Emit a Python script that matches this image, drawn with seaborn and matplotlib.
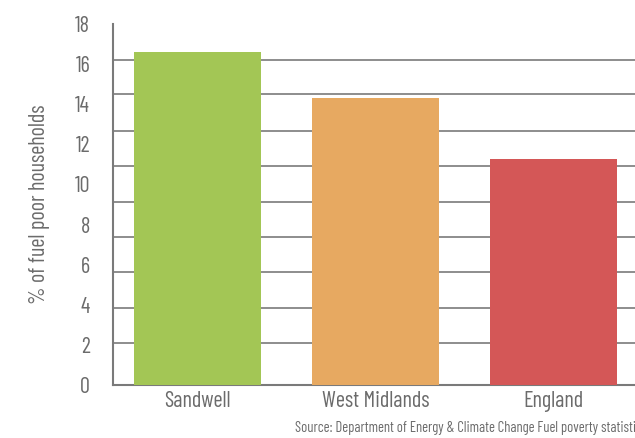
import matplotlib
matplotlib.use("Agg")
import matplotlib.pyplot as plt
import seaborn as sns
import pandas as pd
from matplotlib import font_manager
from matplotlib.transforms import blended_transform_factory

categories = ["Sandwell", "West Midlands", "England"]
values = [16.6, 14.3, 11.27]
colors = ["#a3c655", "#e7a961", "#d45757"]
ytick_values = [0, 2, 4, 6, 8, 10, 12, 14, 16, 18]
grid_values = [2.08, 3.84, 5.62, 7.39, 9.14, 10.92, 12.68, 14.51, 16.2, 18.0]
source_text = "Source: Department of Energy & Climate Change Fuel poverty statistics"

sns.set_style("white")
names = {f.name for f in font_manager.fontManager.ttflist}
fam = "Barlow Condensed" if "Barlow Condensed" in names else "DejaVu Sans"
plt.rcParams["font.family"] = [fam, "DejaVu Sans"]

TEXT = "#6b6b6b"
LINE = "#7a7a7a"

df = pd.DataFrame({"category": categories, "value": values})

fig = plt.figure(figsize=(6.35, 4.38), dpi=100)
ax = fig.add_axes([113/635, 1 - 385/438, 1 - 113/635, (385 - 24)/438])

sns.barplot(data=df, x="category", y="value", hue="category", palette=colors,
            width=0.715, saturation=1, legend=False, ax=ax, zorder=3,
            linewidth=0, edgecolor="none")

ax.set_ylim(0, 18)
ax.set_xlim(-0.475, 2.46)

ax.set_yticks(ytick_values)
ax.set_yticklabels([str(v) for v in ytick_values])
ax.set_yticks(grid_values, minor=True)
ax.tick_params(axis="y", which="major", length=0, pad=16.5, labelsize=16, labelcolor=TEXT)
ax.tick_params(axis="y", which="minor", length=4, width=1.2, color=LINE, direction="out")
ax.tick_params(axis="x", length=0, pad=4, labelsize=16, labelcolor=TEXT)
ax.grid(False)
ax.yaxis.grid(True, which="minor", color=LINE, linewidth=1.2, zorder=0)
ax.set_axisbelow(True)

for s in ["top", "right"]:
    ax.spines[s].set_visible(False)
for s in ["left", "bottom"]:
    ax.spines[s].set_color(LINE)
    ax.spines[s].set_linewidth(1.5)

ax.set_xlabel("")
ax.set_ylabel("% of fuel poor households", fontsize=16, color=TEXT)
ax.yaxis.set_label_coords(40/635, 0.5,
                          transform=blended_transform_factory(fig.transFigure, ax.transAxes))
ax.yaxis.label.set_va("center")

fig.text(295/635, 1 - 428/438, source_text, fontsize=10.5, color=TEXT,
         ha="left", va="center")

fig.savefig("out.png", dpi=100)
